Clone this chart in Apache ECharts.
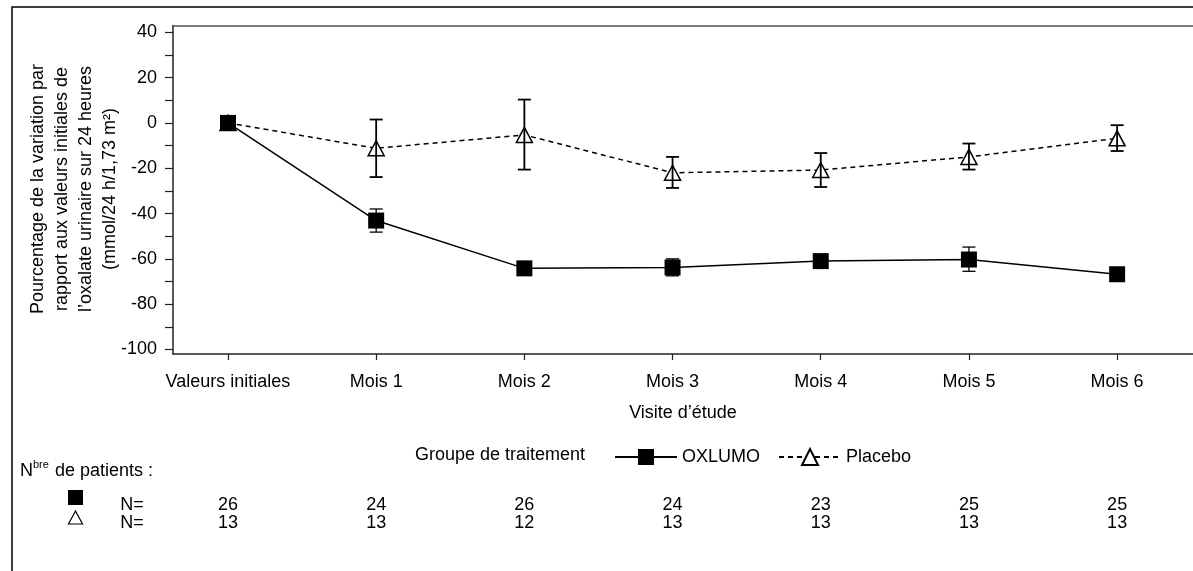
<!DOCTYPE html>
<html><head><meta charset="utf-8">
<script src="https://cdn.jsdelivr.net/npm/echarts@6/dist/echarts.min.js"></script>
<style>html,body{margin:0;padding:0;background:#fff}#c{width:1193px;height:571px}</style>
</head><body><div id="c"></div>
<script>
const categories = ['Valeurs initiales','Mois 1','Mois 2','Mois 3','Mois 4','Mois 5','Mois 6'];
const oxlumoMean = [0, -43.1, -64.2, -63.8, -61.0, -60.3, -66.8];
const oxlumoLow  = [0, -48.2, -66.0, -67.5, -63.0, -65.5, -68.5];
const oxlumoHigh = [0, -38.0, -62.4, -60.0, -59.0, -54.8, -65.0];
const placeboMean = [0, -11.2, -5.3, -22.0, -20.8, -15.0, -6.8];
const placeboLow  = [0, -23.9, -20.6, -28.7, -28.3, -20.6, -12.4];
const placeboHigh = [0, 1.5, 10.3, -15.0, -13.3, -9.1, -1.0];
const nOxlumo = [26, 24, 26, 24, 23, 25, 25];
const nPlacebo = [13, 13, 12, 13, 13, 13, 13];
const yLabelTicks = [-100, -80, -60, -40, -20, 0, 20, 40];
const yMinorTicks = [-100, -90, -80, -70, -60, -50, -40, -30, -20, -10, 0, 10, 20, 30, 40];

const F = '"Liberation Sans", Arial, sans-serif';
const idx = categories.map((c, i) => i);
const chart = echarts.init(document.getElementById('c'), null, {renderer: 'canvas'});

function errRender(halfCap, lw) {
  return function (params, api) {
    const x = api.value(0), lo = api.value(1), hi = api.value(2);
    if (lo === hi) return null;
    const a = api.coord([x, lo]), b = api.coord([x, hi]);
    const st = {stroke: '#000', lineWidth: lw};
    return {type: 'group', children: [
      {type: 'line', shape: {x1: a[0], y1: a[1], x2: b[0], y2: b[1]}, style: st},
      {type: 'line', shape: {x1: a[0] - halfCap, y1: a[1], x2: a[0] + halfCap, y2: a[1]}, style: st},
      {type: 'line', shape: {x1: b[0] - halfCap, y1: b[1], x2: b[0] + halfCap, y2: b[1]}, style: st}
    ]};
  };
}

const X_MIN = -0.371, X_MAX = 6.512;

chart.setOption({
  animation: false,
  backgroundColor: '#fff',
  textStyle: {fontFamily: F, color: '#000'},
  grid: {left: 173, right: 0, top: 25.5, bottom: 571 - 354, show: false},
  xAxis: [{
    type: 'value', min: X_MIN, max: X_MAX,
    name: 'Visite d\u2019\u00e9tude', nameLocation: 'middle', nameGap: 50,
    nameTextStyle: {fontSize: 18, color: '#000', fontFamily: F},
    axisLine: {show: true, onZero: false, lineStyle: {color: '#222', width: 1.5}},
    axisTick: {show: true, customValues: idx, length: 6, lineStyle: {color: '#222', width: 1.2}},
    axisLabel: {customValues: idx, formatter: v => categories[Math.round(v)], fontSize: 18, color: '#000', margin: 19, fontFamily: F},
    splitLine: {show: false}
  }, {
    type: 'value', position: 'top', min: X_MIN, max: X_MAX,
    axisLine: {show: true, onZero: false, lineStyle: {color: '#555', width: 1.5}},
    axisTick: {show: false}, axisLabel: {show: false}, splitLine: {show: false}
  }],
  yAxis: {
    type: 'value', min: -102, max: 43,
    axisLine: {show: true, onZero: false, lineStyle: {color: '#222', width: 1.5}},
    axisTick: {show: true, customValues: yMinorTicks, length: 8, lineStyle: {color: '#222', width: 1.2}},
    axisLabel: {customValues: yLabelTicks, fontSize: 18, color: '#000', margin: 16, fontFamily: F},
    splitLine: {show: false}
  },
  legend: {
    data: ['OXLUMO', 'Placebo'], left: 609, top: 443,
    itemWidth: 62, itemHeight: 20, itemGap: 18,
    textStyle: {fontSize: 18, color: '#000', fontFamily: F}
  },
  series: [
    {
      name: 'OXLUMO', type: 'line', data: idx.map(i => [i, oxlumoMean[i]]),
      symbol: 'rect', symbolSize: 16, z: 4,
      itemStyle: {color: '#000'}, lineStyle: {color: '#000', width: 1.5}
    },
    {
      name: 'Placebo', type: 'line', data: idx.map(i => [i, placeboMean[i]]),
      symbol: 'triangle', symbolSize: [16, 15], z: 3,
      itemStyle: {color: '#fff', borderColor: '#000', borderWidth: 1.5},
      lineStyle: {color: '#000', width: 1.5, type: [5, 4]}
    },
    {
      type: 'custom', z: 5, silent: true,
      data: idx.map(i => [i, oxlumoLow[i], oxlumoHigh[i]]),
      renderItem: errRender(6.5, 1.3)
    },
    {
      type: 'custom', z: 5, silent: true,
      data: idx.map(i => [i, placeboLow[i], placeboHigh[i]]),
      renderItem: errRender(6.5, 1.8)
    }
  ]
});

const gfx = [];
gfx.push({type: 'rect', shape: {x: 12, y: 7, width: 1300, height: 700}, style: {fill: 'none', stroke: '#000', lineWidth: 1.5}, z: 10, silent: true});
gfx.push({type: 'text', x: 74, y: 189, rotation: Math.PI / 2,
  style: {text: 'Pourcentage de la variation par\nrapport aux valeurs initiales de\nl\u2019oxalate urinaire sur 24 heures\n(mmol/24 h/1,73 m\u00b2)',
    font: '18px ' + F, fill: '#000', textAlign: 'center', textVerticalAlign: 'middle', lineHeight: 24}});
gfx.push({type: 'text', x: 415, y: 455, style: {text: 'Groupe de traitement', font: '18px ' + F, fill: '#000', textAlign: 'left', textVerticalAlign: 'middle'}});
gfx.push({type: 'text', x: 20, y: 471, style: {text: 'N', font: '18px ' + F, fill: '#000', textAlign: 'left', textVerticalAlign: 'middle'}});
gfx.push({type: 'text', x: 33, y: 465, style: {text: 'bre', font: '11px ' + F, fill: '#000', textAlign: 'left', textVerticalAlign: 'middle'}});
gfx.push({type: 'text', x: 50, y: 471, style: {text: ' de patients :', font: '18px ' + F, fill: '#000', textAlign: 'left', textVerticalAlign: 'middle'}});
gfx.push({type: 'rect', shape: {x: 68, y: 490, width: 15, height: 15}, style: {fill: '#000'}});
gfx.push({type: 'polygon', shape: {points: [[75.5, 511], [68.5, 524], [82.5, 524]]}, style: {fill: 'none', stroke: '#000', lineWidth: 1.2}});
const rowY1 = 505, rowY2 = 523;
gfx.push({type: 'text', x: 132, y: rowY1, style: {text: 'N=', font: '18px ' + F, fill: '#000', textAlign: 'center', textVerticalAlign: 'middle'}});
gfx.push({type: 'text', x: 132, y: rowY2, style: {text: 'N=', font: '18px ' + F, fill: '#000', textAlign: 'center', textVerticalAlign: 'middle'}});
idx.forEach(i => {
  const px = chart.convertToPixel({xAxisIndex: 0}, i);
  gfx.push({type: 'text', x: px, y: rowY1, style: {text: String(nOxlumo[i]), font: '18px ' + F, fill: '#000', textAlign: 'center', textVerticalAlign: 'middle'}});
  gfx.push({type: 'text', x: px, y: rowY2, style: {text: String(nPlacebo[i]), font: '18px ' + F, fill: '#000', textAlign: 'center', textVerticalAlign: 'middle'}});
});
chart.setOption({graphic: gfx});
</script>
</body></html>
